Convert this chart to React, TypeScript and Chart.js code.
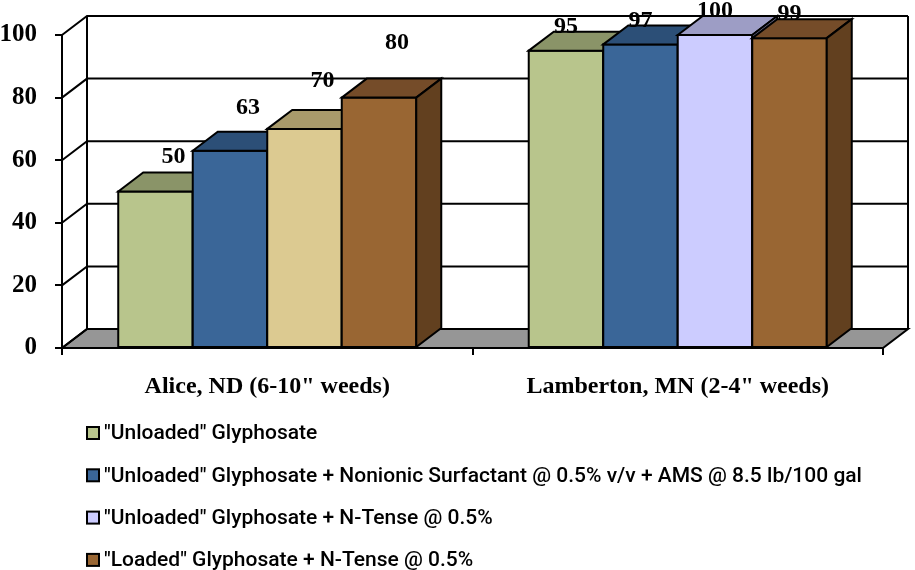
import { useEffect, useRef } from "react";
import { Chart, registerables } from "chart.js";

Chart.register(...registerables);

const categories = ['Alice, ND (6-10" weeds)', 'Lamberton, MN (2-4" weeds)'];
const seriesNames = [
  '"Unloaded" Glyphosate',
  '"Unloaded" Glyphosate + Nonionic Surfactant @ 0.5% v/v + AMS @ 8.5 lb/100 gal',
  '"Unloaded" Glyphosate + N-Tense @ 0.5%',
  '"Loaded" Glyphosate + N-Tense @ 0.5%',
];
const unloaded = [50, 95];
const unloadedNis = [63, 97];
const unloadedNTense = [70, 100];
const loadedNTense = [80, 99];
const yTicks = [0, 20, 40, 60, 80, 100];

const frontColors = [
  ["#b8c58c", "#b8c58c"],
  ["#3a6698", "#3a6698"],
  ["#dcca91", "#ccccff"],
  ["#996633", "#996633"],
];
const topColors = [
  ["#8a9468", "#8a9468"],
  ["#2c4f77", "#2c4f77"],
  ["#a89a6b", "#9d9dc5"],
  ["#754c29", "#754c29"],
];
const sideColors = [
  ["#6e7753", "#6e7753"],
  ["#223f60", "#223f60"],
  ["#8a7e57", "#7e7ea2"],
  ["#62401f", "#62401f"],
];
const legendColors = ["#b8c58c", "#3a6698", "#ccccff", "#996633"];

const DX = 25;
const DY = 19;
const SERIF = '"Liberation Serif", "Times New Roman", serif';

const threeD = {
  id: "threeD",
  beforeDatasetsDraw(chart: any) {
    const { ctx, chartArea: a, scales } = chart;
    const y = scales.y;
    const top = y.getPixelForValue(100);
    const bot = y.getPixelForValue(0);
    ctx.save();
    ctx.lineWidth = 2;
    ctx.strokeStyle = "#000";
    ctx.lineJoin = "miter";
    ctx.fillStyle = "#fff";
    ctx.fillRect(a.left + DX, top - DY, a.right - a.left, bot - top);
    ctx.beginPath();
    ctx.moveTo(a.left, bot);
    ctx.lineTo(a.right, bot);
    ctx.lineTo(a.right + DX, bot - DY);
    ctx.lineTo(a.left + DX, bot - DY);
    ctx.closePath();
    ctx.fillStyle = "#969696";
    ctx.fill();
    ctx.stroke();
    for (const v of yTicks) {
      const py = y.getPixelForValue(v);
      ctx.beginPath();
      ctx.moveTo(a.left, py);
      ctx.lineTo(a.left + DX, py - DY);
      ctx.lineTo(a.right + DX, py - DY);
      ctx.stroke();
    }
    ctx.beginPath();
    ctx.moveTo(a.left + DX, top - DY);
    ctx.lineTo(a.left + DX, bot - DY);
    ctx.moveTo(a.right + DX, top - DY);
    ctx.lineTo(a.right + DX, bot - DY);
    ctx.stroke();
    ctx.restore();
  },
  afterDatasetsDraw(chart: any) {
    const { ctx, scales } = chart;
    const y = scales.y;
    const bars: any[] = [];
    chart.data.datasets.forEach((ds: any, d: number) => {
      const meta = chart.getDatasetMeta(d);
      meta.data.forEach((el: any, i: number) => {
        bars.push({ el, d, i, v: ds.data[i] });
      });
    });
    bars.sort((p, q) => p.el.x - q.el.x);
    ctx.save();
    ctx.lineWidth = 2;
    ctx.strokeStyle = "#000";
    ctx.lineJoin = "miter";
    for (const b of bars) {
      const { x, y: t, base, width } = b.el;
      const x1 = x - width / 2;
      const x2 = x + width / 2;
      ctx.fillStyle = frontColors[b.d][b.i];
      ctx.fillRect(x1, t, x2 - x1, base - t);
      ctx.strokeRect(x1, t, x2 - x1, base - t);
      ctx.beginPath();
      ctx.moveTo(x1, t);
      ctx.lineTo(x1 + DX, t - DY);
      ctx.lineTo(x2 + DX, t - DY);
      ctx.lineTo(x2, t);
      ctx.closePath();
      ctx.fillStyle = topColors[b.d][b.i];
      ctx.fill();
      ctx.stroke();
      ctx.beginPath();
      ctx.moveTo(x2, t);
      ctx.lineTo(x2 + DX, t - DY);
      ctx.lineTo(x2 + DX, base - DY);
      ctx.lineTo(x2, base);
      ctx.closePath();
      ctx.fillStyle = sideColors[b.d][b.i];
      ctx.fill();
      ctx.stroke();
    }
    ctx.fillStyle = "#000";
    ctx.font = "bold 24px " + SERIF;
    ctx.textAlign = "center";
    ctx.textBaseline = "middle";
    for (const b of bars) {
      const { x, y: t } = b.el;
      let ly = y.getPixelForValue(b.v * 1.22);
      let lx = x + 18;
      if (ly < 12) {
        ly = t - DY - 5;
        lx = x;
      }
      ctx.fillText(String(b.v), lx, ly);
    }
    ctx.restore();
  },
  afterDraw(chart: any) {
    const { ctx } = chart;
    ctx.save();
    ctx.font = '500 21px Roboto, "Liberation Sans", sans-serif';
    ctx.textBaseline = "middle";
    ctx.textAlign = "left";
    seriesNames.forEach((name, k) => {
      const cy = 433 + k * 42.3;
      ctx.fillStyle = legendColors[k];
      ctx.fillRect(87, cy - 6, 12, 12);
      ctx.lineWidth = 2;
      ctx.strokeStyle = "#000";
      ctx.strokeRect(87, cy - 6, 12, 12);
      ctx.fillStyle = "#000";
      ctx.fillText(name, 104, cy + 1);
    });
    ctx.restore();
  },
};

export default function App() {
  const ref = useRef<HTMLCanvasElement>(null);
  useEffect(() => {
    const values = [unloaded, unloadedNis, unloadedNTense, loadedNTense];
    const chart = new Chart(ref.current!, {
      type: "bar",
      data: {
        labels: categories,
        datasets: values.map((vals, d) => ({
          label: seriesNames[d],
          data: vals,
          backgroundColor: frontColors[d],
          borderColor: "#000",
          borderWidth: 2,
          categoryPercentage: 0.726,
          barPercentage: 1.0,
        })),
      },
      options: {
        responsive: false,
        animation: false,
        devicePixelRatio: 1,
        layout: { padding: { left: 0, right: 32, top: 35, bottom: 162 } },
        plugins: {
          legend: { display: false },
          tooltip: { enabled: false },
        },
        scales: {
          x: {
            afterFit: (s: any) => {
              s.height = 60;
            },
            grid: {
              offset: true,
              drawOnChartArea: false,
              drawTicks: true,
              tickLength: 7,
              color: "#000",
              lineWidth: 2,
            },
            border: { display: true, color: "#000", width: 2 },
            ticks: {
              color: "#000",
              maxRotation: 0,
              padding: 17,
              font: { family: SERIF, size: 24, weight: "bold" },
            },
          },
          y: {
            min: 0,
            max: 100,
            afterFit: (s: any) => {
              s.width = 62;
            },
            afterBuildTicks: (s: any) => {
              s.ticks = yTicks.map((v) => ({ value: v }));
            },
            grid: {
              drawOnChartArea: false,
              drawTicks: true,
              tickLength: 7,
              color: "#000",
              lineWidth: 2,
            },
            border: { display: true, color: "#000", width: 2 },
            ticks: {
              color: "#000",
              padding: 18,
              font: { family: SERIF, size: 25, weight: "bold" },
            },
          },
        },
      },
      plugins: [threeD],
    });
    return () => chart.destroy();
  }, []);
  return (
    <div style={{ position: "fixed", left: 0, top: 0, width: 915, height: 570, background: "#fff" }}>
      <canvas ref={ref} width={915} height={570} />
    </div>
  );
}
